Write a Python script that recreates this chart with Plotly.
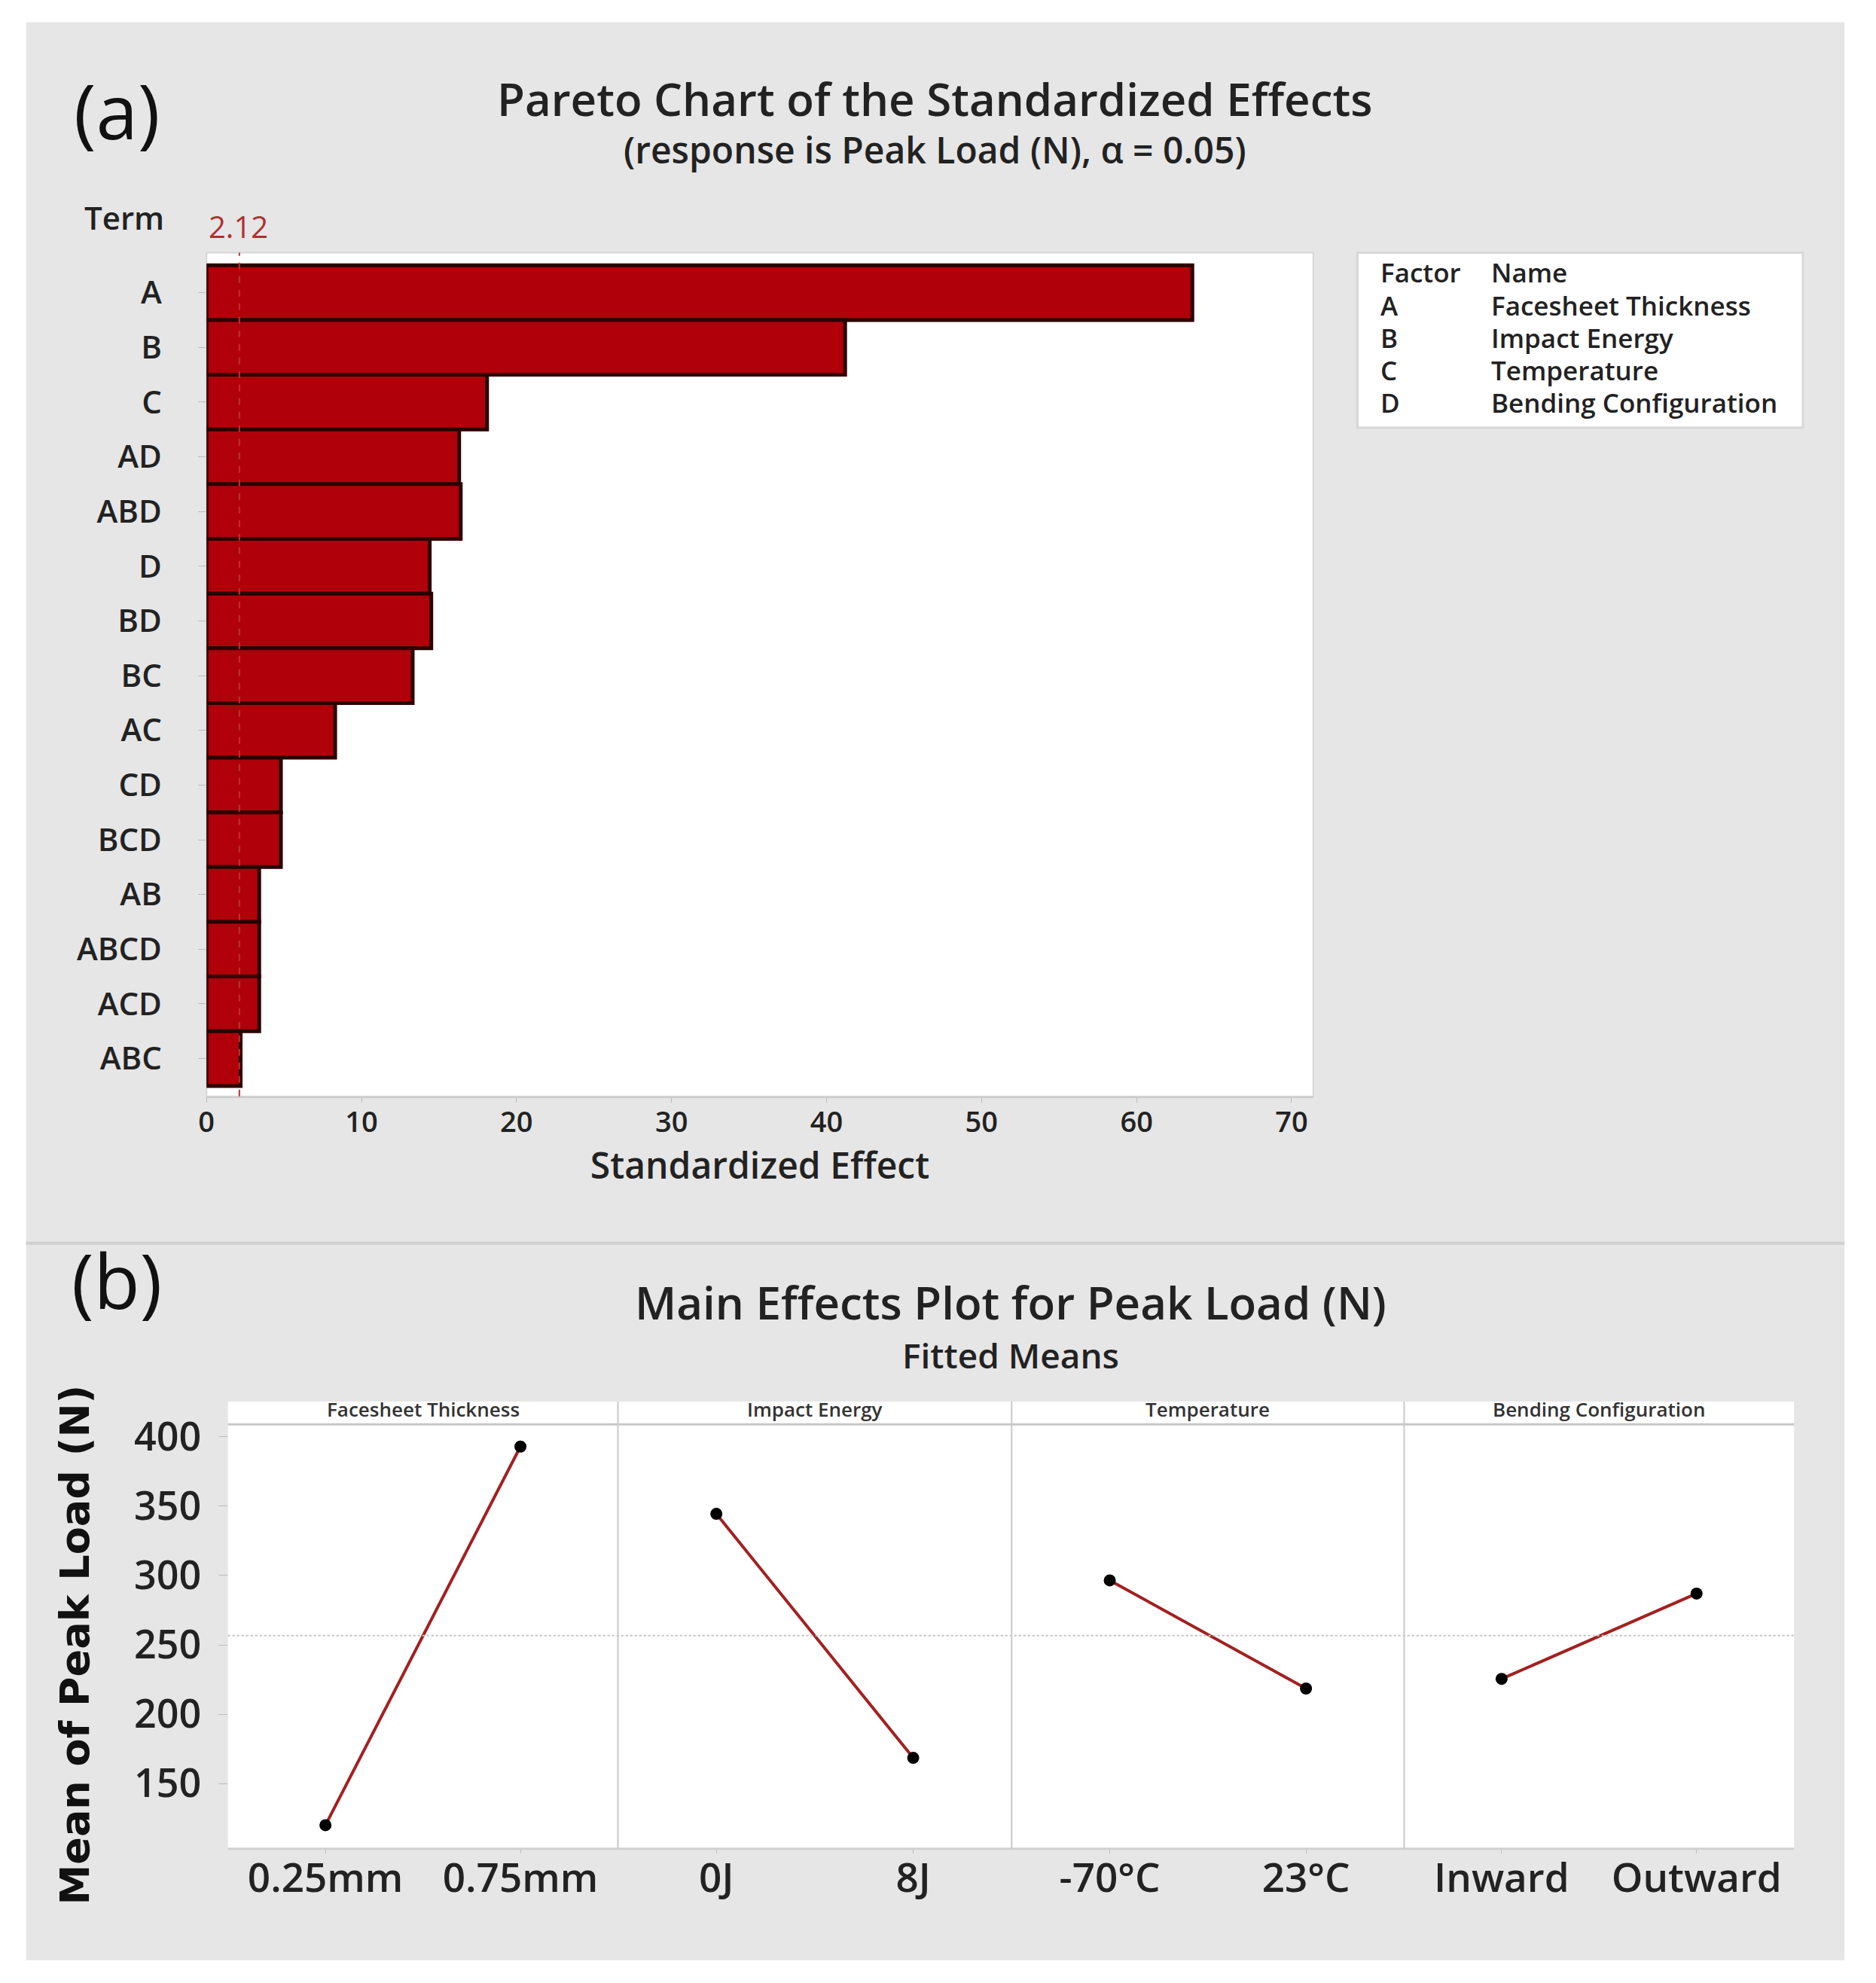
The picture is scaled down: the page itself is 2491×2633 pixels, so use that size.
import numpy as np
import plotly.graph_objects as go

# Pareto chart data (a)
terms = ["A", "B", "C", "AD", "ABD", "D", "BD", "BC", "AC", "CD", "BCD", "AB", "ABCD", "ACD", "ABC"]
effects = [63.6, 41.2, 18.1, 16.3, 16.4, 14.4, 14.5, 13.3, 8.3, 4.8, 4.8, 3.4, 3.4, 3.4, 2.2]
ref_value = 2.12
factor_codes = ["A", "B", "C", "D"]
factor_names = ["Facesheet Thickness", "Impact Energy", "Temperature", "Bending Configuration"]

# Main effects data (b)
levels = [["0.25mm", "0.75mm"], ["0J", "8J"], ["-70°C", "23°C"], ["Inward", "Outward"]]
means = [[120.0, 393.0], [344.5, 168.5], [296.5, 218.5], [225.5, 287.0]]
y_ticks = [150, 200, 250, 300, 350, 400]

W, H = 2491, 2633
REF_W = 1480.0  # layout positions were measured on a 1480-wide copy of the reference
S = W / REF_W
OFF_X, OFF_Y = 18, 20  # page margin / render offset
TEXT_DY = 8  # annotation glyphs sit a little low


def px_x(v):
    return (v * S - OFF_X) / W


def px_y(v, dy=0):
    return 1 - (v * S - OFF_Y - dy) / H


def box_y(v):
    # small vertical stretch for frames and axes
    return px_y(v * 1.00727 - 5.95)


FONT = "Open Sans"
TXT = "#222222"
BAR_RED = "#B0000A"
LINE_RED = "#A32020"
GREY_BG = "#E6E6E6"


def f(size, color=TXT, weight=600, family=FONT):
    return dict(size=size, color=color, family=family, weight=weight)


fig = go.Figure()

# ---- (a) Pareto chart
fig.add_trace(go.Bar(
    x=effects, y=terms, orientation="h", width=1.0,
    marker=dict(color=BAR_RED, line=dict(color="#2a0000", width=5)),
    xaxis="x", yaxis="y", showlegend=False,
))

# ---- (b) main effects panels
for i, (lv, mv) in enumerate(zip(levels, means)):
    ax = str(i + 2)
    fig.add_trace(go.Scatter(
        x=[0, 1], y=mv, mode="lines+markers",
        line=dict(color=LINE_RED, width=4),
        marker=dict(color="black", size=16),
        xaxis="x" + ax, yaxis="y" + ax, showlegend=False,
    ))

grand_mean = float(np.mean(means))

layout = dict(
    width=W, height=H,
    margin=dict(l=0, r=0, t=0, b=0),
    paper_bgcolor="white",
    plot_bgcolor="rgba(0,0,0,0)",
    font=dict(family=FONT, color=TXT),
    xaxis=dict(
        domain=[px_x(163), px_x(1040)], anchor="y",
        range=[0, 71.4], tickvals=list(range(0, 71, 10)),
        ticks="outside", ticklen=6, tickcolor="#bbbbbb", ticklabelstandoff=-6,
        tickfont=f(38),
        showgrid=False, zeroline=False, showline=True, linecolor="#cccccc", linewidth=2,
        title=dict(text="Standardized Effect", font=f(48), standoff=10),
    ),
    yaxis=dict(
        domain=[box_y(866), box_y(200)], anchor="x",
        type="category", categoryorder="array", categoryarray=terms,
        range=[14.69, -0.73],
        ticks="outside", ticklen=10, tickcolor="#bbbbbb", ticklabelstandoff=40,
        tickfont=f(42),
        showgrid=False, zeroline=False, showline=False,
    ),
)

panel_edges = [180, 489, 801, 1112, 1421]
for i in range(4):
    ax = str(i + 2)
    layout["xaxis" + ax] = dict(
        domain=[px_x(panel_edges[i]), px_x(panel_edges[i + 1])], anchor="y" + ax,
        range=[-0.5, 1.5], tickvals=[0, 1], ticktext=levels[i],
        ticks="outside", ticklen=5, tickcolor="#bbbbbb", ticklabelstandoff=-12,
        tickfont=f(53),
        showgrid=False, zeroline=False, showline=False,
    )
    layout["yaxis" + ax] = dict(
        domain=[box_y(1460), box_y(1125)], anchor="x" + ax,
        range=[103, 409], tickvals=y_ticks,
        ticks="outside" if i == 0 else "", ticklen=12, tickcolor="#bbbbbb",
        ticklabelstandoff=12,
        showticklabels=(i == 0),
        tickfont=f(52),
        showgrid=False, zeroline=False, showline=False,
    )

white = dict(fillcolor="white", line=dict(width=0), layer="below")
shapes = [
    # grey panel
    dict(type="rect", xref="paper", yref="paper", x0=px_x(20), x1=px_x(1461),
         y0=box_y(1548), y1=box_y(18), fillcolor=GREY_BG, line=dict(width=0), layer="below"),
    # plot backgrounds
    dict(type="rect", xref="paper", yref="paper", x0=px_x(163), x1=px_x(1040),
         y0=box_y(866), y1=box_y(200), **white),
    dict(type="rect", xref="paper", yref="paper", x0=px_x(180), x1=px_x(1421),
         y0=box_y(1460), y1=box_y(1107), **white),
    # separator
    dict(type="line", xref="paper", yref="paper", x0=px_x(20), x1=px_x(1461),
         y0=box_y(982), y1=box_y(982), line=dict(color="#d0d0d0", width=4)),
    # plot frame (a)
    dict(type="rect", xref="paper", yref="paper", x0=px_x(163), x1=px_x(1040),
         y0=box_y(866), y1=box_y(200), line=dict(color="#d6d6d6", width=2), layer="below"),
    # reference line
    dict(type="line", xref="x", yref="y domain", x0=ref_value, x1=ref_value, y0=0, y1=1.0,
         line=dict(color="#c03030", width=2, dash="dash"), layer="above"),
    # factor legend box
    dict(type="rect", xref="paper", yref="paper", x0=px_x(1075), x1=px_x(1428),
         y0=box_y(338), y1=box_y(200), fillcolor="white", line=dict(color="#d8d8d8", width=3)),
    # main effects strip
    dict(type="line", xref="paper", yref="paper", x0=px_x(180), x1=px_x(1421),
         y0=box_y(1125), y1=box_y(1125), line=dict(color="#c8c8c8", width=3)),
    dict(type="line", xref="paper", yref="paper", x0=px_x(180), x1=px_x(1421),
         y0=box_y(1460), y1=box_y(1460), line=dict(color="#d0d0d0", width=3)),
    # grand mean reference
    dict(type="line", xref="paper", yref="y2", x0=px_x(180), x1=px_x(1421),
         y0=grand_mean, y1=grand_mean, line=dict(color="#c4c4c4", width=2, dash="dot")),
]
for e in panel_edges[1:-1]:
    shapes.append(dict(type="line", xref="paper", yref="paper", x0=px_x(e), x1=px_x(e),
                       y0=box_y(1460), y1=box_y(1107), line=dict(color="#c8c8c8", width=2)))

annotations = [
    dict(text="(a)", x=92, y=87, font=f(100, "#111", 400)),
    dict(text="Pareto Chart of the Standardized Effects", x=740, y=78, font=f(60)),
    dict(text="(response is Peak Load (N), α = 0.05)", x=740, y=118, font=f(48)),
    dict(text="Term", x=98, y=172, font=f(42)),
    dict(text=f"{ref_value:.2f}", x=188, y=179, font=f(40, "#b03030", 400)),
    dict(text="(b)", x=92, y=1013, font=f(100, "#111", 400)),
    dict(text="Main Effects Plot for Peak Load (N)", x=800, y=1031, font=f(60)),
    dict(text="Fitted Means", x=800, y=1073, font=f(46)),
    dict(text="Mean of Peak Load (N)", x=59, y=1303, textangle=-90,
         font=f(54, "#111", 700, "DejaVu Sans")),
    dict(text="Factor", x=1092, y=216, xanchor="left", font=f(35)),
    dict(text="Name", x=1180, y=216, xanchor="left", font=f(35)),
]
for k, (code, name) in enumerate(zip(factor_codes, factor_names)):
    yy = 242 + k * 25.7
    annotations.append(dict(text=code, x=1092, y=yy, xanchor="left", font=f(35)))
    annotations.append(dict(text=name, x=1180, y=yy, xanchor="left", font=f(35)))
for i, name in enumerate(factor_names):
    annotations.append(dict(text=name, x=(panel_edges[i] + panel_edges[i + 1]) / 2,
                            y=1116, font=f(26, "#333")))

for a in annotations:
    a.setdefault("xanchor", "center")
    a["x"] = px_x(a["x"])
    shift = 4 if a["y"] > 982 else 0
    a["y"] = px_y(a["y"] + shift, TEXT_DY)
    a.update(xref="paper", yref="paper", yanchor="middle", showarrow=False)

layout["shapes"] = shapes
layout["annotations"] = annotations
fig.update_layout(**layout)

fig.write_html("out.html")
